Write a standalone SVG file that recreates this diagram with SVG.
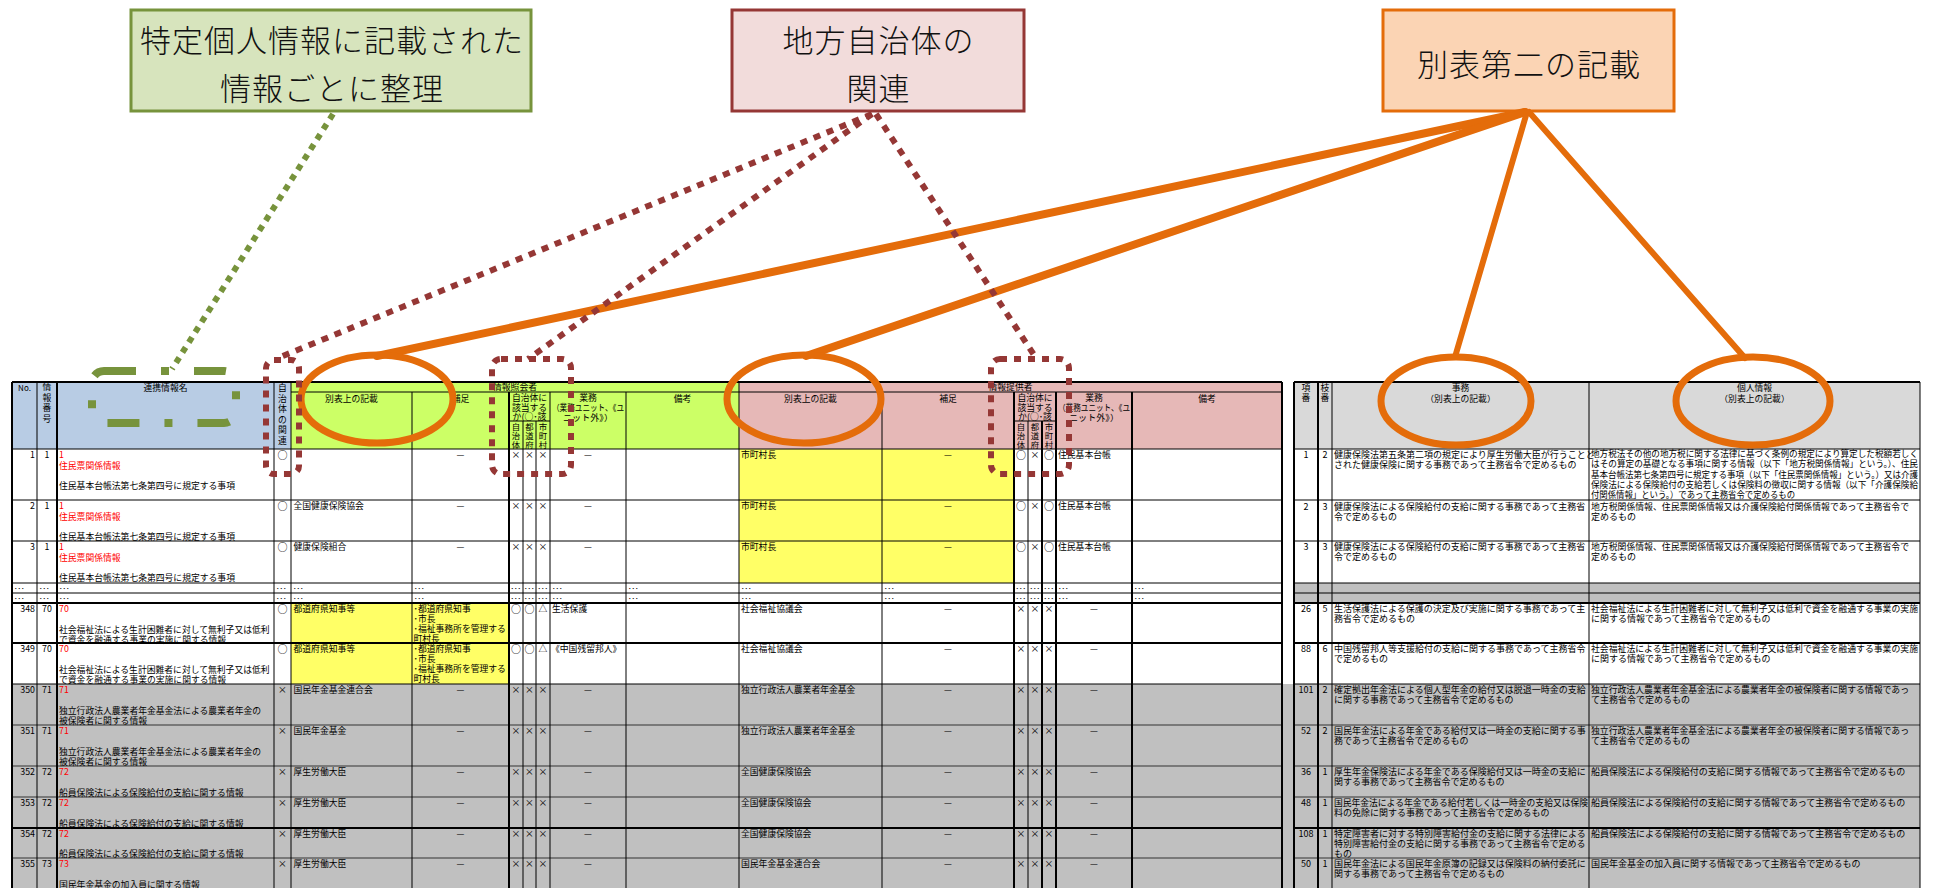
<svg xmlns="http://www.w3.org/2000/svg" width="1936" height="888" viewBox="0 0 1936 888">
<style>
text{font-family:"Noto Sans CJK JP","Noto Sans CJK SC",sans-serif;fill:#000}
.s{font-size:8.8px}
.rt{font-size:9px}
.m{text-anchor:middle}
.e{text-anchor:end}
.red{fill:#FF0000}
.o{font-size:10px}
.v{font-size:8.4px}
.g line{stroke:#000;stroke-width:1}
.g .k{stroke-width:2}
.g .q{stroke:#333}
.big{font-size:31px;font-weight:300;letter-spacing:1px;text-anchor:middle;fill:#111}
.ol{fill:none;stroke:#E46C0A;stroke-linecap:round}
.rd{fill:none;stroke:#953735;stroke-width:6;stroke-dasharray:7 7}
</style>
<defs>
<clipPath id="c1"><rect x="509" y="392" width="41" height="29"/></clipPath>
<clipPath id="c2"><rect x="1014" y="392" width="42" height="29"/></clipPath>
</defs>
<rect width="1936" height="888" fill="#fff"/>

<g id="table-left">
<rect x="12" y="382" width="279" height="67" fill="#B8CCE4"/>
<rect x="291" y="382" width="448" height="67" fill="#CCFF66"/>
<rect x="739" y="382" width="543" height="67" fill="#E6B8B7"/>
<g class="s">
<text class="m" x="24.5" y="391" font-size="8">No.</text>
<text class="m"><tspan x="47" y="390">情</tspan><tspan x="47" y="400.5">報</tspan><tspan x="47" y="411">番</tspan><tspan x="47" y="421.5">号</tspan></text>
<text class="m" x="165.5" y="391">連携情報名</text>
<text class="m"><tspan x="282.5" y="391">自</tspan><tspan x="282.5" y="401.5">治</tspan><tspan x="282.5" y="412">体</tspan><tspan x="282.5" y="422.5">の</tspan><tspan x="282.5" y="433">関</tspan><tspan x="282.5" y="443.5">連</tspan></text>
<text class="m" x="515" y="390.3">情報照会者</text>
<text class="m" x="351.5" y="401.5">別表上の記載</text>
<text class="m" x="460.5" y="401.5">補足</text>
<g clip-path="url(#c1)"><text class="m" x="529.5" y="400.5">自治体に</text><text class="m" x="529.5" y="410.5">該当する</text><text class="m" x="529.5" y="420">か(○･該</text></g>
<g class="v">
<text class="m"><tspan x="516" y="429.5">自</tspan><tspan x="516" y="438.7">治</tspan><tspan x="516" y="447.9">体</tspan></text>
<text class="m"><tspan x="529.5" y="429.5">都</tspan><tspan x="529.5" y="438.7">道</tspan><tspan x="529.5" y="447.9">府</tspan></text>
<text class="m"><tspan x="543" y="429.5">市</tspan><tspan x="543" y="438.7">町</tspan><tspan x="543" y="447.9">村</tspan></text>
</g>
<text class="m" x="588" y="400.5">業務</text>
<text class="m" x="588" y="411" textLength="72" lengthAdjust="spacingAndGlyphs">（業務ユニット、《ユ</text>
<text class="m" x="588" y="421" textLength="50" lengthAdjust="spacingAndGlyphs">ニット外》）</text>
<text class="m" x="682.5" y="401.5">備考</text>
<text class="m" x="1010.5" y="390.3">情報提供者</text>
<text class="m" x="810.5" y="401.5">別表上の記載</text>
<text class="m" x="948" y="401.5">補足</text>
<g clip-path="url(#c2)"><text class="m" x="1035" y="400.5">自治体に</text><text class="m" x="1035" y="410.5">該当する</text><text class="m" x="1035" y="420">か(○･該</text></g>
<g class="v">
<text class="m"><tspan x="1021" y="429.5">自</tspan><tspan x="1021" y="438.7">治</tspan><tspan x="1021" y="447.9">体</tspan></text>
<text class="m"><tspan x="1035" y="429.5">都</tspan><tspan x="1035" y="438.7">道</tspan><tspan x="1035" y="447.9">府</tspan></text>
<text class="m"><tspan x="1049" y="429.5">市</tspan><tspan x="1049" y="438.7">町</tspan><tspan x="1049" y="447.9">村</tspan></text>
</g>
<text class="m" x="1094" y="400.5">業務</text>
<text class="m" x="1094" y="411" textLength="72" lengthAdjust="spacingAndGlyphs">（業務ユニット、《ユ</text>
<text class="m" x="1094" y="421" textLength="50" lengthAdjust="spacingAndGlyphs">ニット外》）</text>
<text class="m" x="1207" y="401.5">備考</text>
</g>
<!-- body fills -->
<rect x="12" y="449" width="1270" height="235" fill="#fff"/>
<rect x="739" y="449" width="275" height="134" fill="#FFFF66"/>
<rect x="291" y="603" width="218" height="81" fill="#FFFF66"/>
<rect x="12" y="684" width="1908" height="204" fill="#C0C0C0"/>
<g class="g">
<line class="k" x1="12" y1="382" x2="1282" y2="382"/>
<line x1="291" y1="392" x2="1282" y2="392"/>
<line x1="509" y1="421" x2="550" y2="421"/>
<line x1="1014" y1="421" x2="1056" y2="421"/>
<line x1="12" y1="449" x2="1282" y2="449" stroke-width="1.5"/>
<line x1="12" y1="500" x2="1282" y2="500"/>
<line x1="12" y1="541" x2="1282" y2="541"/>
<line x1="12" y1="583" x2="1282" y2="583"/>
<line x1="12" y1="593" x2="1282" y2="593"/>
<line class="k" x1="12" y1="603" x2="1282" y2="603"/>
<line class="k" x1="12" y1="643" x2="1282" y2="643"/>
<line x1="12" y1="684" x2="1282" y2="684"/>
<line class="q" x1="12" y1="725" x2="1282" y2="725"/>
<line class="q" x1="12" y1="766" x2="1282" y2="766"/>
<line class="q" x1="12" y1="797" x2="1282" y2="797"/>
<line class="k" x1="12" y1="828" x2="1282" y2="828"/>
<line class="q" x1="12" y1="858" x2="1282" y2="858"/>
<line class="k" x1="12" y1="382" x2="12" y2="888"/>
<line x1="37" y1="382" x2="37" y2="888"/>
<line class="k" x1="57" y1="382" x2="57" y2="888"/>
<line x1="274" y1="382" x2="274" y2="888"/>
<line x1="291" y1="382" x2="291" y2="888"/>
<line x1="739" y1="382" x2="739" y2="888" stroke-width="1.5"/>
<line class="k" x1="1282" y1="382" x2="1282" y2="888"/>
<line x1="412" y1="392" x2="412" y2="888"/>
<line class="k" x1="509" y1="392" x2="509" y2="888"/>
<line x1="550" y1="392" x2="550" y2="888" stroke-width="1.5"/>
<line x1="626" y1="392" x2="626" y2="888"/>
<line x1="882" y1="392" x2="882" y2="888"/>
<line class="k" x1="1014" y1="392" x2="1014" y2="888"/>
<line class="k" x1="1056" y1="392" x2="1056" y2="888"/>
<line class="k" x1="1132" y1="392" x2="1132" y2="888"/>
<line x1="523" y1="421" x2="523" y2="888"/>
<line x1="536" y1="421" x2="536" y2="888"/>
<line x1="1028" y1="421" x2="1028" y2="888"/>
<line class="k" x1="1042" y1="421" x2="1042" y2="888"/>
</g>
<g class="s">
<!-- row 1 -->
<text class="e" x="35" y="458.3">1</text><text class="m" x="47" y="458.3">1</text>
<text class="red" x="59" y="458.3">1</text><text class="red" x="59" y="468.6">住民票関係情報</text><text x="59" y="489.2">住民基本台帳法第七条第四号に規定する事項</text>
<text class="m o" x="282.5" y="458.8">○</text>
<text class="m" x="460.5" y="458.3">—</text>
<text class="m" x="516" y="458.3">×</text><text class="m" x="529.5" y="458.3">×</text><text class="m" x="543" y="458.3">×</text>
<text class="m" x="588" y="458.3">—</text>
<text x="741" y="458.3">市町村長</text><text class="m" x="948" y="458.3">—</text>
<text class="m o" x="1021" y="458.8">○</text><text class="m" x="1035" y="458.3">×</text><text class="m o" x="1049" y="458.8">○</text>
<text x="1058" y="458.3">住民基本台帳</text>
<!-- row 2 -->
<text class="e" x="35" y="509.3">2</text><text class="m" x="47" y="509.3">1</text>
<text class="red" x="59" y="509.3">1</text><text class="red" x="59" y="519.6">住民票関係情報</text><text x="59" y="540.2">住民基本台帳法第七条第四号に規定する事項</text>
<text class="m o" x="282.5" y="509.8">○</text><text x="293.5" y="509.3">全国健康保険協会</text>
<text class="m" x="460.5" y="509.3">—</text>
<text class="m" x="516" y="509.3">×</text><text class="m" x="529.5" y="509.3">×</text><text class="m" x="543" y="509.3">×</text>
<text class="m" x="588" y="509.3">—</text>
<text x="741" y="509.3">市町村長</text><text class="m" x="948" y="509.3">—</text>
<text class="m o" x="1021" y="509.8">○</text><text class="m" x="1035" y="509.3">×</text><text class="m o" x="1049" y="509.8">○</text>
<text x="1058" y="509.3">住民基本台帳</text>
<!-- row 3 -->
<text class="e" x="35" y="550.3">3</text><text class="m" x="47" y="550.3">1</text>
<text class="red" x="59" y="550.3">1</text><text class="red" x="59" y="560.6">住民票関係情報</text><text x="59" y="581">住民基本台帳法第七条第四号に規定する事項</text>
<text class="m o" x="282.5" y="550.8">○</text><text x="293.5" y="550.3">健康保険組合</text>
<text class="m" x="460.5" y="550.3">—</text>
<text class="m" x="516" y="550.3">×</text><text class="m" x="529.5" y="550.3">×</text><text class="m" x="543" y="550.3">×</text>
<text class="m" x="588" y="550.3">—</text>
<text x="741" y="550.3">市町村長</text><text class="m" x="948" y="550.3">—</text>
<text class="m o" x="1021" y="550.8">○</text><text class="m" x="1035" y="550.3">×</text><text class="m o" x="1049" y="550.8">○</text>
<text x="1058" y="550.3">住民基本台帳</text>
<!-- dot rows -->
<g font-size="7">
<text x="14" y="590.5">･･･</text><text x="39" y="590.5">･･･</text><text x="59" y="590.5">･･･</text><text x="276" y="590.5">･･･</text><text x="293" y="590.5">･･･</text><text x="414" y="590.5">･･･</text><text x="510.5" y="590.5">･･･</text><text x="524" y="590.5">･･･</text><text x="537.5" y="590.5">･･･</text><text x="552" y="590.5">･･･</text><text x="628" y="590.5">･･･</text><text x="741" y="590.5">･･･</text><text x="884" y="590.5">･･･</text><text x="1015.5" y="590.5">･･･</text><text x="1029.5" y="590.5">･･･</text><text x="1043.5" y="590.5">･･･</text><text x="1058" y="590.5">･･･</text><text x="1134" y="590.5">･･･</text>
<text x="14" y="600.5">･･･</text><text x="39" y="600.5">･･･</text><text x="59" y="600.5">･･･</text><text x="276" y="600.5">･･･</text><text x="293" y="600.5">･･･</text><text x="414" y="600.5">･･･</text><text x="510.5" y="600.5">･･･</text><text x="524" y="600.5">･･･</text><text x="537.5" y="600.5">･･･</text><text x="552" y="600.5">･･･</text><text x="628" y="600.5">･･･</text><text x="741" y="600.5">･･･</text><text x="884" y="600.5">･･･</text><text x="1015.5" y="600.5">･･･</text><text x="1029.5" y="600.5">･･･</text><text x="1043.5" y="600.5">･･･</text><text x="1058" y="600.5">･･･</text><text x="1134" y="600.5">･･･</text>
</g>
<!-- row 348 -->
<text class="e" x="35" y="612.3">348</text><text class="m" x="47" y="612.3">70</text>
<text class="red" x="59" y="612.3">70</text><text x="59" y="632.5">社会福祉法による生計困難者に対して無利子又は低利</text><text x="59" y="642.5">で資金を融通する事業の実施に関する情報</text>
<text class="m o" x="282.5" y="612.8">○</text><text x="293.5" y="612.3">都道府県知事等</text>
<text x="413.5" y="612.3">･都道府県知事</text><text x="413.5" y="622.3">･市長</text><text x="413.5" y="632.3">･福祉事務所を管理する</text><text x="413.5" y="642.3">町村長</text>
<text class="m o" x="516" y="612.8">○</text><text class="m o" x="529.5" y="612.8">○</text><text class="m" x="543" y="612.3">△</text>
<text x="552" y="612.3">生活保護</text>
<text x="741" y="612.3">社会福祉協議会</text><text class="m" x="948" y="612.3">—</text>
<text class="m" x="1021" y="612.3">×</text><text class="m" x="1035" y="612.3">×</text><text class="m" x="1049" y="612.3">×</text>
<text class="m" x="1094" y="612.3">—</text>
<!-- row 349 -->
<text class="e" x="35" y="652.3">349</text><text class="m" x="47" y="652.3">70</text>
<text class="red" x="59" y="652.3">70</text><text x="59" y="672.5">社会福祉法による生計困難者に対して無利子又は低利</text><text x="59" y="682.5">で資金を融通する事業の実施に関する情報</text>
<text class="m o" x="282.5" y="652.8">○</text><text x="293.5" y="652.3">都道府県知事等</text>
<text x="413.5" y="652.3">･都道府県知事</text><text x="413.5" y="662.3">･市長</text><text x="413.5" y="672.3">･福祉事務所を管理する</text><text x="413.5" y="682.3">町村長</text>
<text class="m o" x="516" y="652.8">○</text><text class="m o" x="529.5" y="652.8">○</text><text class="m" x="543" y="652.3">△</text>
<text x="551" y="652.3">《中国残留邦人》</text>
<text x="741" y="652.3">社会福祉協議会</text><text class="m" x="948" y="652.3">—</text>
<text class="m" x="1021" y="652.3">×</text><text class="m" x="1035" y="652.3">×</text><text class="m" x="1049" y="652.3">×</text>
<text class="m" x="1094" y="652.3">—</text>
<!-- row 350 -->
<text class="e" x="35" y="693.3">350</text><text class="m" x="47" y="693.3">71</text>
<text class="red" x="59" y="693.3">71</text><text x="59" y="713.9">独立行政法人農業者年金基金法による農業者年金の</text><text x="59" y="724">被保険者に関する情報</text>
<text class="m" x="282.5" y="693.3">×</text><text x="293.5" y="693.3">国民年金基金連合会</text>
<text class="m" x="460.5" y="693.3">—</text>
<text class="m" x="516" y="693.3">×</text><text class="m" x="529.5" y="693.3">×</text><text class="m" x="543" y="693.3">×</text>
<text class="m" x="588" y="693.3">—</text>
<text x="741" y="693.3">独立行政法人農業者年金基金</text><text class="m" x="948" y="693.3">—</text>
<text class="m" x="1021" y="693.3">×</text><text class="m" x="1035" y="693.3">×</text><text class="m" x="1049" y="693.3">×</text>
<text class="m" x="1094" y="693.3">—</text>
<!-- row 351 -->
<text class="e" x="35" y="734.3">351</text><text class="m" x="47" y="734.3">71</text>
<text class="red" x="59" y="734.3">71</text><text x="59" y="754.9">独立行政法人農業者年金基金法による農業者年金の</text><text x="59" y="765">被保険者に関する情報</text>
<text class="m" x="282.5" y="734.3">×</text><text x="293.5" y="734.3">国民年金基金</text>
<text class="m" x="460.5" y="734.3">—</text>
<text class="m" x="516" y="734.3">×</text><text class="m" x="529.5" y="734.3">×</text><text class="m" x="543" y="734.3">×</text>
<text class="m" x="588" y="734.3">—</text>
<text x="741" y="734.3">独立行政法人農業者年金基金</text><text class="m" x="948" y="734.3">—</text>
<text class="m" x="1021" y="734.3">×</text><text class="m" x="1035" y="734.3">×</text><text class="m" x="1049" y="734.3">×</text>
<text class="m" x="1094" y="734.3">—</text>
<!-- row 352 -->
<text class="e" x="35" y="775.3">352</text><text class="m" x="47" y="775.3">72</text>
<text class="red" x="59" y="775.3">72</text><text x="59" y="795.5">船員保険法による保険給付の支給に関する情報</text>
<text class="m" x="282.5" y="775.3">×</text><text x="293.5" y="775.3">厚生労働大臣</text>
<text class="m" x="460.5" y="775.3">—</text>
<text class="m" x="516" y="775.3">×</text><text class="m" x="529.5" y="775.3">×</text><text class="m" x="543" y="775.3">×</text>
<text class="m" x="588" y="775.3">—</text>
<text x="741" y="775.3">全国健康保険協会</text><text class="m" x="948" y="775.3">—</text>
<text class="m" x="1021" y="775.3">×</text><text class="m" x="1035" y="775.3">×</text><text class="m" x="1049" y="775.3">×</text>
<text class="m" x="1094" y="775.3">—</text>
<!-- row 353 -->
<text class="e" x="35" y="806.3">353</text><text class="m" x="47" y="806.3">72</text>
<text class="red" x="59" y="806.3">72</text><text x="59" y="826.5">船員保険法による保険給付の支給に関する情報</text>
<text class="m" x="282.5" y="806.3">×</text><text x="293.5" y="806.3">厚生労働大臣</text>
<text class="m" x="460.5" y="806.3">—</text>
<text class="m" x="516" y="806.3">×</text><text class="m" x="529.5" y="806.3">×</text><text class="m" x="543" y="806.3">×</text>
<text class="m" x="588" y="806.3">—</text>
<text x="741" y="806.3">全国健康保険協会</text><text class="m" x="948" y="806.3">—</text>
<text class="m" x="1021" y="806.3">×</text><text class="m" x="1035" y="806.3">×</text><text class="m" x="1049" y="806.3">×</text>
<text class="m" x="1094" y="806.3">—</text>
<!-- row 354 -->
<text class="e" x="35" y="837.3">354</text><text class="m" x="47" y="837.3">72</text>
<text class="red" x="59" y="837.3">72</text><text x="59" y="856.5">船員保険法による保険給付の支給に関する情報</text>
<text class="m" x="282.5" y="837.3">×</text><text x="293.5" y="837.3">厚生労働大臣</text>
<text class="m" x="460.5" y="837.3">—</text>
<text class="m" x="516" y="837.3">×</text><text class="m" x="529.5" y="837.3">×</text><text class="m" x="543" y="837.3">×</text>
<text class="m" x="588" y="837.3">—</text>
<text x="741" y="837.3">全国健康保険協会</text><text class="m" x="948" y="837.3">—</text>
<text class="m" x="1021" y="837.3">×</text><text class="m" x="1035" y="837.3">×</text><text class="m" x="1049" y="837.3">×</text>
<text class="m" x="1094" y="837.3">—</text>
<!-- row 355 -->
<text class="e" x="35" y="867.3">355</text><text class="m" x="47" y="867.3">73</text>
<text class="red" x="59" y="867.3">73</text><text x="59" y="887.5">国民年金基金の加入員に関する情報</text>
<text class="m" x="282.5" y="867.3">×</text><text x="293.5" y="867.3">厚生労働大臣</text>
<text class="m" x="460.5" y="867.3">—</text>
<text class="m" x="516" y="867.3">×</text><text class="m" x="529.5" y="867.3">×</text><text class="m" x="543" y="867.3">×</text>
<text class="m" x="588" y="867.3">—</text>
<text x="741" y="867.3">国民年金基金連合会</text><text class="m" x="948" y="867.3">—</text>
<text class="m" x="1021" y="867.3">×</text><text class="m" x="1035" y="867.3">×</text><text class="m" x="1049" y="867.3">×</text>
<text class="m" x="1094" y="867.3">—</text>
</g>
</g>

<g id="table-right">
<rect x="1294" y="382" width="626" height="67" fill="#D9D9D9"/>
<rect x="1294" y="583" width="626" height="20" fill="#C0C0C0"/>
<g class="s">
<text class="m"><tspan x="1306" y="391">項</tspan><tspan x="1306" y="401">番</tspan></text>
<text class="m"><tspan x="1325" y="391">枝</tspan><tspan x="1325" y="401">番</tspan></text>
<text class="m" x="1460.5" y="391">事務</text>
<text class="m" x="1460.5" y="402">（別表上の記載）</text>
<text class="m" x="1754.5" y="391">個人情報</text>
<text class="m" x="1754.5" y="402">（別表上の記載）</text>
</g>
<g class="g">
<line class="k" x1="1294" y1="382" x2="1920" y2="382"/>
<line x1="1294" y1="449" x2="1920" y2="449" stroke-width="1.5"/>
<line x1="1294" y1="500" x2="1920" y2="500"/>
<line x1="1294" y1="541" x2="1920" y2="541"/>
<line x1="1294" y1="583" x2="1920" y2="583"/>
<line x1="1294" y1="593" x2="1920" y2="593"/>
<line class="k" x1="1294" y1="603" x2="1920" y2="603"/>
<line class="k" x1="1294" y1="643" x2="1920" y2="643"/>
<line x1="1294" y1="684" x2="1920" y2="684"/>
<line class="q" x1="1294" y1="725" x2="1920" y2="725"/>
<line class="q" x1="1294" y1="766" x2="1920" y2="766"/>
<line class="q" x1="1294" y1="797" x2="1920" y2="797"/>
<line class="k" x1="1294" y1="828" x2="1920" y2="828"/>
<line class="q" x1="1294" y1="858" x2="1920" y2="858"/>
<line class="k" x1="1294" y1="382" x2="1294" y2="888"/>
<line class="k" x1="1318" y1="382" x2="1318" y2="888"/>
<line x1="1332" y1="382" x2="1332" y2="888"/>
<line x1="1589" y1="382" x2="1589" y2="888" stroke-width="1.5"/>
<line x1="1920" y1="382" x2="1920" y2="888" stroke-width="1.5"/>
</g>
<g class="rt">
<text class="m" x="1306" y="458">1</text><text class="m" x="1325" y="458">2</text>
<text x="1334" y="458">健康保険法第五条第二項の規定により厚生労働大臣が行うことと</text>
<text x="1334" y="468.2">された健康保険に関する事務であって主務省令で定めるもの</text>
<text x="1591" y="457" textLength="327" lengthAdjust="spacingAndGlyphs">地方税法その他の地方税に関する法律に基づく条例の規定により算定した税額若しく</text>
<text x="1591" y="467.3" textLength="327" lengthAdjust="spacingAndGlyphs">はその算定の基礎となる事項に関する情報（以下「地方税関係情報」という。）、住民</text>
<text x="1591" y="477.6" textLength="327" lengthAdjust="spacingAndGlyphs">基本台帳法第七条第四号に規定する事項（以下「住民票関係情報」という。）又は介護</text>
<text x="1591" y="487.9" textLength="327" lengthAdjust="spacingAndGlyphs">保険法による保険給付の支給若しくは保険料の徴収に関する情報（以下「介護保険給</text>
<text x="1591" y="498" textLength="204" lengthAdjust="spacingAndGlyphs">付関係情報」という。）であって主務省令で定めるもの</text>

<text class="m" x="1306" y="509.5">2</text><text class="m" x="1325" y="509.5">3</text>
<text x="1334" y="509.5">健康保険法による保険給付の支給に関する事務であって主務省</text>
<text x="1334" y="519.7">令で定めるもの</text>
<text x="1591" y="509.5" textLength="318" lengthAdjust="spacingAndGlyphs">地方税関係情報、住民票関係情報又は介護保険給付関係情報であって主務省令で</text>
<text x="1591" y="519.7">定めるもの</text>

<text class="m" x="1306" y="550">3</text><text class="m" x="1325" y="550">3</text>
<text x="1334" y="550">健康保険法による保険給付の支給に関する事務であって主務省</text>
<text x="1334" y="560.2">令で定めるもの</text>
<text x="1591" y="550" textLength="318" lengthAdjust="spacingAndGlyphs">地方税関係情報、住民票関係情報又は介護保険給付関係情報であって主務省令で</text>
<text x="1591" y="560.2">定めるもの</text>

<text class="m" x="1306" y="612">26</text><text class="m" x="1325" y="612">5</text>
<text x="1334" y="612">生活保護法による保護の決定及び実施に関する事務であって主</text>
<text x="1334" y="622.2">務省令で定めるもの</text>
<text x="1591" y="612" textLength="327" lengthAdjust="spacingAndGlyphs">社会福祉法による生計困難者に対して無利子又は低利で資金を融通する事業の実施</text>
<text x="1591" y="622.2">に関する情報であって主務省令で定めるもの</text>

<text class="m" x="1306" y="652">88</text><text class="m" x="1325" y="652">6</text>
<text x="1334" y="652">中国残留邦人等支援給付の支給に関する事務であって主務省令</text>
<text x="1334" y="662.2">で定めるもの</text>
<text x="1591" y="652" textLength="327" lengthAdjust="spacingAndGlyphs">社会福祉法による生計困難者に対して無利子又は低利で資金を融通する事業の実施</text>
<text x="1591" y="662.2">に関する情報であって主務省令で定めるもの</text>

<text class="m" x="1306" y="693">101</text><text class="m" x="1325" y="693">2</text>
<text x="1334" y="693">確定拠出年金法による個人型年金の給付又は脱退一時金の支給</text>
<text x="1334" y="703.2">に関する事務であって主務省令で定めるもの</text>
<text x="1591" y="693" textLength="318" lengthAdjust="spacingAndGlyphs">独立行政法人農業者年金基金法による農業者年金の被保険者に関する情報であっ</text>
<text x="1591" y="703.2">て主務省令で定めるもの</text>

<text class="m" x="1306" y="734">52</text><text class="m" x="1325" y="734">2</text>
<text x="1334" y="734">国民年金法による年金である給付又は一時金の支給に関する事</text>
<text x="1334" y="744.2">務であって主務省令で定めるもの</text>
<text x="1591" y="734" textLength="318" lengthAdjust="spacingAndGlyphs">独立行政法人農業者年金基金法による農業者年金の被保険者に関する情報であっ</text>
<text x="1591" y="744.2">て主務省令で定めるもの</text>

<text class="m" x="1306" y="775">36</text><text class="m" x="1325" y="775">1</text>
<text x="1334" y="775">厚生年金保険法による年金である保険給付又は一時金の支給に</text>
<text x="1334" y="785.2">関する事務であって主務省令で定めるもの</text>
<text x="1591" y="775">船員保険法による保険給付の支給に関する情報であって主務省令で定めるもの</text>

<text class="m" x="1306" y="806">48</text><text class="m" x="1325" y="806">1</text>
<text x="1334" y="806" textLength="254" lengthAdjust="spacingAndGlyphs">国民年金法による年金である給付若しくは一時金の支給又は保険</text>
<text x="1334" y="816.2">料の免除に関する事務であって主務省令で定めるもの</text>
<text x="1591" y="806">船員保険法による保険給付の支給に関する情報であって主務省令で定めるもの</text>

<text class="m" x="1306" y="837">108</text><text class="m" x="1325" y="837">1</text>
<text x="1334" y="837">特定障害者に対する特別障害給付金の支給に関する法律による</text>
<text x="1334" y="847">特別障害給付金の支給に関する事務であって主務省令で定める</text>
<text x="1334" y="856.5">もの</text>
<text x="1591" y="837">船員保険法による保険給付の支給に関する情報であって主務省令で定めるもの</text>

<text class="m" x="1306" y="867">50</text><text class="m" x="1325" y="867">1</text>
<text x="1334" y="867">国民年金法による国民年金原簿の記録又は保険料の納付委託に</text>
<text x="1334" y="877.2">関する事務であって主務省令で定めるもの</text>
<text x="1591" y="867">国民年金基金の加入員に関する情報であって主務省令で定めるもの</text>
</g>
</g>

<g id="callout-green">
<rect x="131" y="10" width="400" height="101" fill="#D7E4BD" stroke="#77933C" stroke-width="3"/>
<text class="big" x="332" y="52">特定個人情報に記載された</text>
<text class="big" x="332" y="100">情報ごとに整理</text>
</g>
<g id="callout-red">
<rect x="732" y="10" width="292" height="101" fill="#F2DCDB" stroke="#953735" stroke-width="3"/>
<text class="big" x="878.5" y="52">地方自治体の</text>
<text class="big" x="878.5" y="100">関連</text>
</g>
<g id="callout-orange">
<rect x="1383" y="10" width="291" height="101" fill="#FBD4B4" stroke="#E46C0A" stroke-width="3"/>
<text class="big" x="1529" y="76">別表第二の記載</text>
</g>

<g id="connectors">
<line class="ol" x1="1525" y1="112" x2="377" y2="356" stroke-width="8"/>
<line class="ol" x1="1525" y1="112" x2="806" y2="356" stroke-width="8"/>
<line class="ol" x1="1527" y1="112" x2="1455" y2="357" stroke-width="6"/>
<line class="ol" x1="1529" y1="112" x2="1745" y2="358" stroke-width="6"/>
<ellipse class="ol" cx="377" cy="399" rx="76" ry="44" stroke-width="7"/>
<ellipse class="ol" cx="804" cy="399" rx="77" ry="44" stroke-width="7"/>
<ellipse class="ol" cx="1456" cy="401" rx="75" ry="44" stroke-width="7"/>
<ellipse class="ol" cx="1753" cy="401" rx="77" ry="44" stroke-width="7"/>
<line class="rd" x1="872" y1="114" x2="278" y2="358" stroke-width="5"/>
<line class="rd" x1="872" y1="114" x2="528" y2="359" stroke-width="5"/>
<line class="rd" x1="876" y1="114" x2="1036" y2="358" stroke-width="5"/>
<rect class="rd" x="266" y="360" width="33" height="114" rx="8"/>
<rect class="rd" x="492" y="359" width="79" height="115" rx="9"/>
<rect class="rd" x="991" y="359" width="78" height="115" rx="9"/>
<line x1="333" y1="114" x2="172" y2="369" fill="none" stroke="#77933C" stroke-width="6" stroke-dasharray="6 6"/>
<rect x="92" y="371" width="144" height="52" rx="12" fill="none" stroke="#77933C" stroke-width="8" stroke-dasharray="32 25 8 25"/>
</g>
</svg>
